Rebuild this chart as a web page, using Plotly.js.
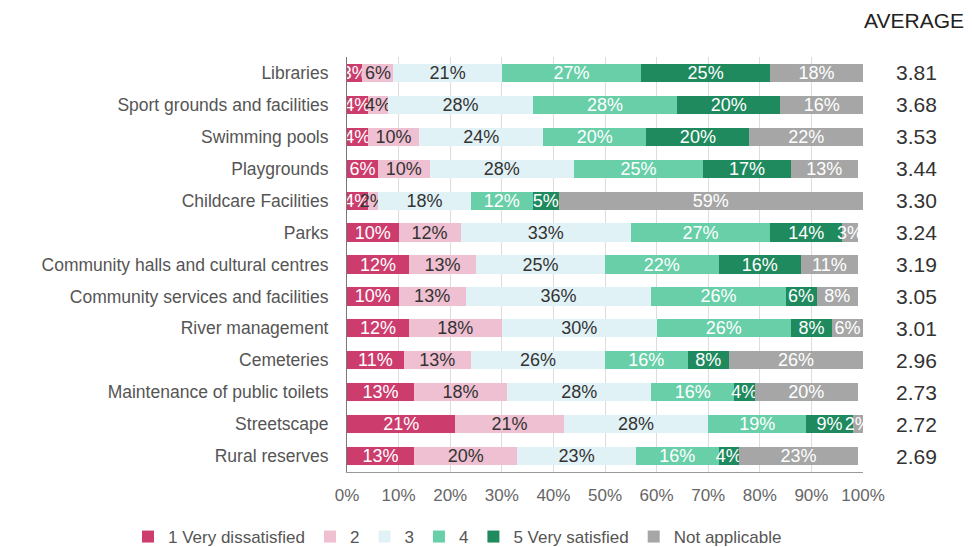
<!DOCTYPE html>
<html>
<head>
<meta charset="utf-8">
<script src="https://cdn.plot.ly/plotly-3.0.1.min.js"></script>
<style>
html,body{margin:0;padding:0;background:#fff;}
#chart{width:972px;height:547px;}
</style>
</head>
<body>
<div id="chart"></div>
<script>
const categories = [
  "Libraries",
  "Sport grounds and facilities",
  "Swimming pools",
  "Playgrounds",
  "Childcare Facilities",
  "Parks",
  "Community halls and cultural centres",
  "Community services and facilities",
  "River management",
  "Cemeteries",
  "Maintenance of public toilets",
  "Streetscape",
  "Rural reserves"
];
const seriesNames = ["1 Very dissatisfied", "2", "3", "4", "5 Very satisfied", "Not applicable"];
const veryDissatisfied = [3, 4, 4, 6, 4, 10, 12, 10, 12, 11, 13, 21, 13];
const rating2 =          [6, 4, 10, 10, 2, 12, 13, 13, 18, 13, 18, 21, 20];
const rating3 =          [21, 28, 24, 28, 18, 33, 25, 36, 30, 26, 28, 28, 23];
const rating4 =          [27, 28, 20, 25, 12, 27, 22, 26, 26, 16, 16, 19, 16];
const verySatisfied =    [25, 20, 20, 17, 5, 14, 16, 6, 8, 8, 4, 9, 4];
const notApplicable =    [18, 16, 22, 13, 59, 3, 11, 8, 6, 26, 20, 2, 23];
const averages = ["3.81", "3.68", "3.53", "3.44", "3.30", "3.24", "3.19", "3.05", "3.01", "2.96", "2.73", "2.72", "2.69"];
const tickVals = [0, 10, 20, 30, 40, 50, 60, 70, 80, 90, 100];

const seriesValues = [veryDissatisfied, rating2, rating3, rating4, verySatisfied, notApplicable];
const colors = ["#cc3d6e", "#efc0d1", "#e1f2f6", "#68cfa9", "#1f8a5e", "#a6a6a6"];
const textColors = ["#ffffff", "#333333", "#333333", "#ffffff", "#ffffff", "#ffffff"];
const FONT = "Liberation Sans, Arial, Helvetica, sans-serif";

const traces = seriesValues.map((vals, i) => ({
  type: "bar",
  orientation: "h",
  name: seriesNames[i],
  y: categories,
  x: vals,
  marker: {color: colors[i], line: {width: 0}},
  text: vals.map(v => v + "%"),
  texttemplate: "%{text}",
  textposition: "inside",
  insidetextanchor: "middle",
  constraintext: "none",
  textangle: 0,
  textfont: {family: FONT, size: 18, color: textColors[i]},
  hoverinfo: "skip"
}));

const annotations = categories.map((c, i) => ({
  xref: "paper", yref: "y",
  x: 1.103, y: c,
  text: averages[i],
  showarrow: false,
  xanchor: "center", yanchor: "middle",
  font: {family: FONT, size: 21, color: "#333333"}
}));
annotations.push({
  xref: "paper", yref: "paper",
  x: 1.098, y: (472 - 21) / 415,
  text: "AVERAGE",
  showarrow: false,
  xanchor: "center", yanchor: "middle",
  font: {family: FONT, size: 21, color: "#222222"}
});

const layout = {
  width: 972, height: 547,
  margin: {l: 347, r: 109, t: 57, b: 75, pad: 0, autoexpand: false},
  paper_bgcolor: "#ffffff",
  plot_bgcolor: "#ffffff",
  barmode: "stack",
  bargap: 0.43,
  showlegend: true,
  legend: {
    orientation: "h",
    xref: "paper", yref: "paper",
    x: (128 - 347) / 516, y: (472 - 537) / 415,
    xanchor: "left", yanchor: "middle",
    font: {family: FONT, size: 17, color: "#555555"},
    traceorder: "normal",
    itemwidth: 30
  },
  xaxis: {
    range: [0, 100],
    tickvals: tickVals,
    ticktext: tickVals.map(v => v + "%"),
    showgrid: true,
    gridcolor: "#dddddd",
    gridwidth: 1,
    zeroline: false,
    showline: true,
    linecolor: "#999999",
    linewidth: 1,
    ticks: "outside",
    ticklen: 8,
    tickcolor: "rgba(0,0,0,0)",
    tickfont: {family: FONT, size: 17, color: "#666666"},
    fixedrange: true
  },
  yaxis: {
    type: "category",
    autorange: "reversed",
    showgrid: false,
    zeroline: false,
    showline: true,
    linecolor: "#777777",
    linewidth: 1,
    ticks: "outside",
    ticklen: 14,
    tickcolor: "rgba(0,0,0,0)",
    tickfont: {family: FONT, size: 17.5, color: "#555555"},
    fixedrange: true
  },
  annotations: annotations,
  hovermode: false
};

Plotly.newPlot("chart", traces, layout, {displayModeBar: false, staticPlot: true});
</script>
</body>
</html>
